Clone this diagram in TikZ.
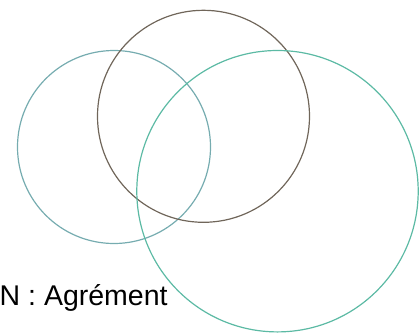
\documentclass[tikz,border=0pt]{standalone}
\usepackage{fontspec}
\setmainfont{Liberation Sans}
\definecolor{leftc}{RGB}{118,172,176}
\definecolor{topc}{RGB}{112,102,90}
\definecolor{bigc}{RGB}{92,186,164}
\begin{document}
\begin{tikzpicture}[x=1pt,y=-1pt,
  ring/.style={line width=1.2pt}]
\useasboundingbox (0,0) rectangle (420,335);
\draw[ring,leftc] (114,147) circle[radius=96.5];
\draw[ring,topc] (203.5,116.3) circle[radius=106];
\draw[ring,bigc] (277.5,191.2) circle[radius=140.7];
\node[anchor=base west,inner sep=0pt,font=\fontsize{28.5}{30}\selectfont] (lbl) at (-0.5,305) {N : Agrément};
\end{tikzpicture}
\end{document}
